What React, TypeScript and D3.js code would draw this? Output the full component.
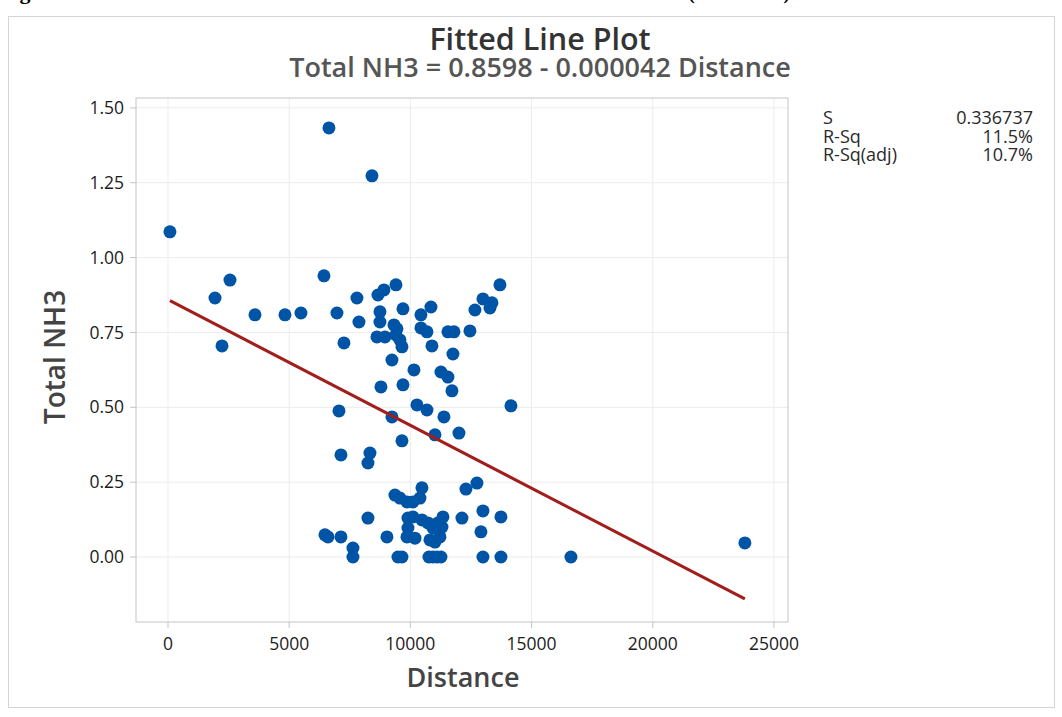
import React from 'react'
import * as d3 from 'd3'

// Distance vs Total NH3
const distance = [
  80, 6641, 8415, 1939, 2558, 2228, 3589, 4826, 5486, 6435,
  6971, 7260, 7796, 7879, 8663, 8910, 9405, 8745, 8745, 9694,
  10849, 10436, 10436, 10684, 9323, 9446, 8621, 8951, 9405, 9570,
  9653, 10890, 9240, 11550, 11798, 12458, 11756, 13695, 12994, 13365,
  13283, 12664, 10148, 11261, 11550, 8786, 9694, 11715, 14149, 10271,
  10684, 7054, 9240, 11385, 11014, 12004, 9653, 7136, 8333, 8250,
  9364, 9570, 9859, 10106, 10395, 10478, 12293, 12746, 8250, 12994,
  13736, 12128, 12911, 6476, 6600, 7136, 7631, 7631, 9034, 9900,
  10106, 10478, 10725, 10931, 11138, 11344, 9900, 9859, 10189, 10808,
  11014, 11220, 11303, 9488, 9653, 10766, 10931, 11096, 11261, 12994,
  13736, 16624, 23801,
]
const totalNH3 = [
  1.086, 1.433, 1.273, 0.865, 0.925, 0.705, 0.809, 0.809, 0.815, 0.939,
  0.815, 0.715, 0.865, 0.785, 0.875, 0.892, 0.909, 0.819, 0.785, 0.829,
  0.835, 0.809, 0.765, 0.752, 0.775, 0.762, 0.735, 0.735, 0.742, 0.725,
  0.702, 0.705, 0.658, 0.752, 0.752, 0.755, 0.678, 0.909, 0.862, 0.849,
  0.832, 0.825, 0.625, 0.618, 0.601, 0.568, 0.575, 0.555, 0.505, 0.508,
  0.491, 0.488, 0.468, 0.468, 0.408, 0.414, 0.388, 0.341, 0.347, 0.314,
  0.207, 0.197, 0.184, 0.184, 0.197, 0.231, 0.227, 0.247, 0.13, 0.154,
  0.134, 0.13, 0.084, 0.074, 0.067, 0.067, 0.03, 0, 0.067, 0.13,
  0.134, 0.124, 0.114, 0.097, 0.114, 0.134, 0.097, 0.067, 0.063, 0.057,
  0.05, 0.067, 0.1, 0, 0, 0, 0, 0, 0, 0,
  0, 0, 0.047,
]

const xTicks = [0, 5000, 10000, 15000, 20000, 25000]
const yTicks = [0, 0.25, 0.5, 0.75, 1, 1.25, 1.5]

const intercept = 0.8598
const slope = -0.000042
const stats = [
  ['S', '0.336737'],
  ['R-Sq', '11.5%'],
  ['R-Sq(adj)', '10.7%'],
]

const W = 1062
const H = 717
const font = '"Open Sans", sans-serif'

export default function App() {
  const left = 136, right = 788, top = 98, bottom = 622
  const x = d3.scaleLinear().domain([-1320, 25580]).range([left, right])
  const y = d3.scaleLinear().domain([-0.217, 1.533]).range([bottom, top])

  const pts = distance.map((d, i) => ({ d, v: totalNH3[i] }))
  const [x0, x1] = d3.extent(distance) as [number, number]
  const line = d3.line<number>().x(d => x(d)).y(d => y(intercept + slope * d))
  const fy = d3.format('.2f')

  return (
    <svg width={W} height={H} style={{ position: 'absolute', left: 0, top: 0 }} fontFamily={font}>
      <rect width={W} height={H} fill="#fff" />
      {/* caption of the surrounding document, cut off at the top */}
      <g fontFamily="'Liberation Serif', serif" fontWeight="bold" fill="#000">
        <text x={0} y={-1} fontSize={22}>Figure</text>
        <text x={688} y={-1} fontSize={20}>(Total NH3)</text>
      </g>
      <rect x={8.5} y={16.5} width={1046} height={691} fill="none" stroke="#d4d4d4" />

      <text x={540} y={50} textAnchor="middle" fontSize={30.5} fontWeight={600} fill="#333">Fitted Line Plot</text>
      <text x={540} y={77} textAnchor="middle" fontSize={27} fontWeight={600} fill="#555">
        Total NH3 = 0.8598 - 0.000042 Distance
      </text>

      {/* grid */}
      <g stroke="#ececec" strokeWidth={1}>
        {xTicks.map(t => <line key={t} x1={x(t)} x2={x(t)} y1={top} y2={bottom} />)}
        {yTicks.map(t => <line key={t} x1={left} x2={right} y1={y(t)} y2={y(t)} />)}
      </g>
      <rect x={left} y={top} width={right - left} height={bottom - top} fill="none" stroke="#c4c4c4" />

      {/* axes */}
      <g stroke="#c4c4c4">
        {xTicks.map(t => <line key={t} x1={x(t)} x2={x(t)} y1={bottom} y2={bottom + 6} />)}
        {yTicks.map(t => <line key={t} x1={left - 6} x2={left} y1={y(t)} y2={y(t)} />)}
      </g>
      <g fontSize={17.5} fill="#1c1c1c">
        {xTicks.map(t => <text key={t} x={x(t)} y={bottom + 28} textAnchor="middle">{t}</text>)}
        {yTicks.map(t => <text key={t} x={left - 12} y={y(t)} dy="0.35em" textAnchor="end">{fy(t)}</text>)}
      </g>
      <text x={463} y={687} textAnchor="middle" fontSize={27} fontWeight={600} fill="#444">Distance</text>
      <text transform="translate(65,357) rotate(-90)" textAnchor="middle" fontSize={28} fontWeight={600} fill="#444">Total NH3</text>

      {/* points and fit */}
      <g fill="#0054a6">
        {pts.map((p, i) => <circle key={i} cx={x(p.d)} cy={y(p.v)} r={6.5} />)}
      </g>
      <path d={line([x0, x1]) ?? ''} fill="none" stroke="#a01f1d" strokeWidth={3} />

      {/* summary */}
      <g fontSize={18} fill="#2a2a2a">
        {stats.map(([k, v], i) => (
          <g key={k}>
            <text x={823} y={124 + i * 18.5}>{k}</text>
            <text x={1033} y={124 + i * 18.5} textAnchor="end">{v}</text>
          </g>
        ))}
      </g>
    </svg>
  )
}
